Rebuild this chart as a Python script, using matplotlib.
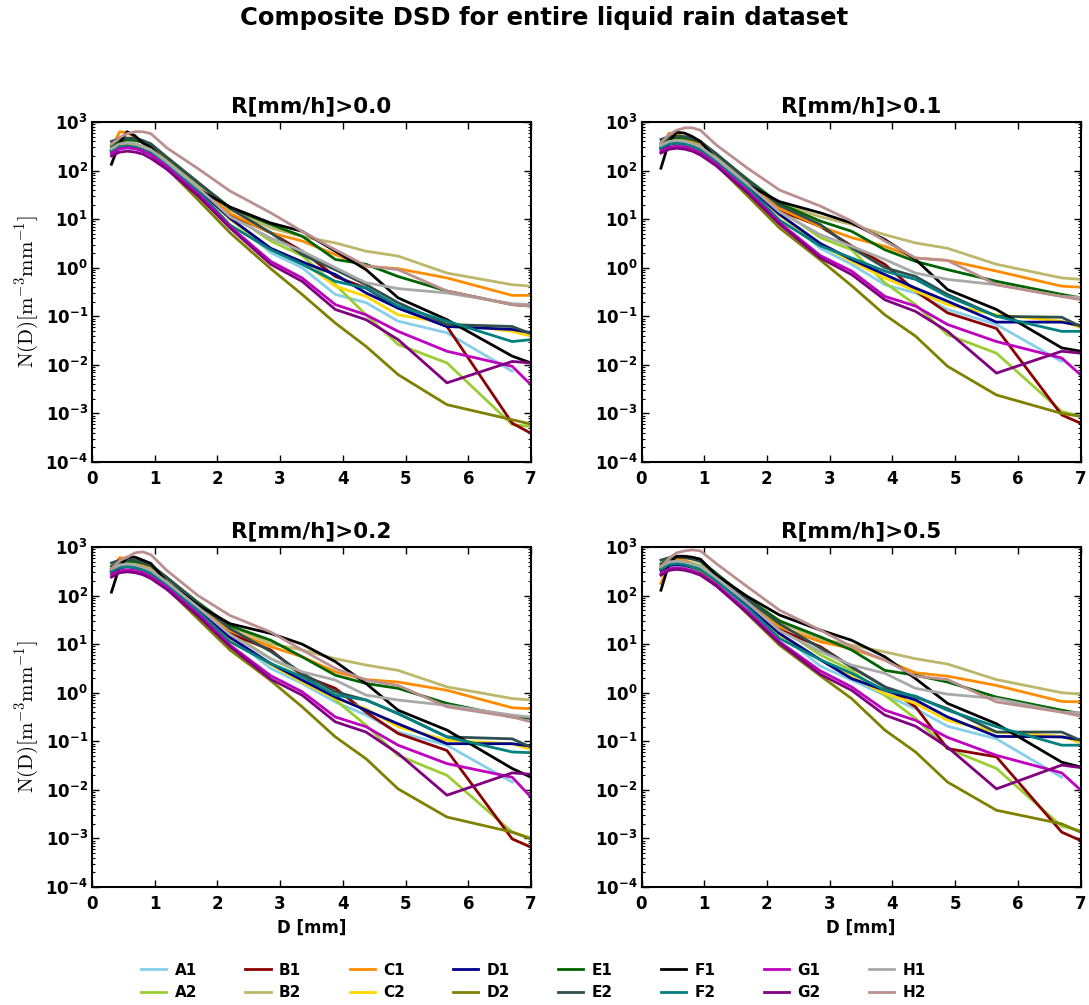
import numpy as np
import matplotlib
matplotlib.use("Agg")
import matplotlib.pyplot as plt
from matplotlib.ticker import FixedLocator, FuncFormatter, LogLocator, NullFormatter

nan = np.nan

# drop diameter [mm] of each size bin
diam = [0.31, 0.44, 0.56, 0.69, 0.81, 0.94, 1.19, 1.69, 2.2,
        2.85, 3.35, 3.88, 4.37, 4.88, 5.66, 6.70, 7.70]

sites = ["A1", "A2", "B1", "B2", "C1", "C2", "D1", "D2",
         "E1", "E2", "F1", "F2", "G1", "G2", "H1", "H2"]
colors = ["#87CEEB", "#9ACD32", "#8B0000", "#BDB76B", "#FF8C00", "#FFD700",
          "#00008B", "#808000", "#006400", "#2F4F4F", "#000000", "#008080",
          "#BF00BF", "#800080", "#A9A9A9", "#BC8F8F"]
thresholds = ["0.0", "0.1", "0.2", "0.5"]

# log10 N(D) [m^-3 mm^-1]
r00 = {
    "A1": [2.35, 2.45, 2.47, 2.45, 2.40, 2.33, 2.13, 1.62, 1.02, 0.31, 0.00, -0.55, -0.72, -1.10, -1.34, -2.13, nan],
    "A2": [2.45, 2.55, 2.57, 2.55, 2.50, 2.44, 2.22, 1.70, 1.12, 0.55, 0.25, -0.35, -0.97, -1.58, -1.96, -3.23, -3.36],
    "B1": [2.40, 2.50, 2.52, 2.50, 2.45, 2.38, 2.17, 1.66, 1.10, 0.72, 0.34, -0.18, -0.42, -0.83, -1.21, -3.20, -3.90],
    "B2": [2.40, 2.52, 2.55, 2.52, 2.48, 2.40, 2.20, 1.70, 1.20, 0.82, 0.64, 0.51, 0.34, 0.24, -0.11, -0.35, -0.45],
    "C1": [2.45, 2.80, 2.78, 2.68, 2.58, 2.47, 2.18, 1.64, 1.12, 0.72, 0.55, 0.27, 0.03, -0.02, -0.21, -0.57, -0.57],
    "C2": [2.38, 2.47, 2.50, 2.48, 2.43, 2.36, 2.15, 1.62, 1.00, 0.36, 0.13, -0.38, -0.59, -0.97, -1.14, -1.31, -1.64],
    "D1": [2.38, 2.47, 2.50, 2.47, 2.42, 2.35, 2.15, 1.62, 1.02, 0.40, 0.12, -0.14, -0.52, -0.83, -1.21, -1.27, -1.50],
    "D2": [2.40, 2.50, 2.52, 2.48, 2.42, 2.33, 2.05, 1.40, 0.72, -0.02, -0.55, -1.14, -1.62, -2.20, -2.82, -3.13, -3.43],
    "E1": [2.50, 2.60, 2.63, 2.62, 2.58, 2.52, 2.27, 1.75, 1.24, 0.89, 0.65, 0.17, 0.07, -0.18, -0.48, -0.76, -0.86],
    "E2": [2.60, 2.66, 2.67, 2.66, 2.62, 2.55, 2.28, 1.76, 1.22, 0.72, 0.27, -0.04, -0.35, -0.72, -1.17, -1.21, -1.71],
    "F1": [2.13, 2.57, 2.80, 2.71, 2.57, 2.47, 2.13, 1.62, 1.25, 0.92, 0.75, 0.34, -0.04, -0.62, -1.07, -1.82, -2.29],
    "F2": [2.40, 2.48, 2.50, 2.48, 2.43, 2.36, 2.13, 1.58, 0.88, 0.37, 0.07, -0.28, -0.42, -0.79, -1.10, -1.52, -1.39],
    "G1": [2.35, 2.45, 2.47, 2.45, 2.40, 2.32, 2.08, 1.52, 0.85, 0.13, -0.21, -0.76, -0.97, -1.31, -1.72, -2.03, -3.30],
    "G2": [2.30, 2.38, 2.40, 2.38, 2.34, 2.25, 2.03, 1.48, 0.82, 0.07, -0.28, -0.86, -1.07, -1.48, -2.37, -1.93, -2.03],
    "H1": [2.45, 2.55, 2.57, 2.55, 2.50, 2.43, 2.18, 1.65, 1.05, 0.61, 0.34, 0.00, -0.31, -0.43, -0.52, -0.74, -0.80],
    "H2": [2.54, 2.68, 2.76, 2.80, 2.80, 2.76, 2.47, 2.04, 1.58, 1.13, 0.75, 0.37, 0.04, -0.04, -0.48, -0.76, -0.86],
}
r01 = {
    "A1": [2.42, 2.52, 2.54, 2.52, 2.47, 2.40, 2.20, 1.68, 1.10, 0.40, 0.07, -0.35, -0.52, -0.86, -1.17, -1.93, nan],
    "A2": [2.52, 2.62, 2.64, 2.62, 2.57, 2.51, 2.29, 1.77, 1.20, 0.62, 0.37, -0.31, -0.76, -1.38, -1.76, -2.96, -3.29],
    "B1": [2.47, 2.57, 2.59, 2.57, 2.52, 2.45, 2.24, 1.73, 1.18, 0.85, 0.45, 0.07, -0.48, -0.93, -1.25, -3.03, -3.60],
    "B2": [2.47, 2.59, 2.62, 2.59, 2.55, 2.47, 2.27, 1.78, 1.32, 1.05, 0.89, 0.68, 0.51, 0.40, 0.07, -0.21, -0.31],
    "C1": [2.50, 2.77, 2.76, 2.67, 2.60, 2.50, 2.24, 1.70, 1.22, 0.85, 0.62, 0.44, 0.20, 0.15, -0.07, -0.38, -0.45],
    "C2": [2.45, 2.54, 2.57, 2.55, 2.50, 2.43, 2.22, 1.69, 1.08, 0.48, 0.13, -0.21, -0.48, -0.76, -0.97, -1.10, -1.53],
    "D1": [2.45, 2.54, 2.57, 2.54, 2.49, 2.42, 2.22, 1.69, 1.10, 0.50, 0.17, -0.14, -0.42, -0.69, -1.12, -1.12, -1.35],
    "D2": [2.47, 2.57, 2.59, 2.55, 2.49, 2.40, 2.12, 1.48, 0.82, 0.16, -0.37, -0.97, -1.41, -2.03, -2.62, -3.00, -3.20],
    "E1": [2.57, 2.66, 2.68, 2.67, 2.64, 2.58, 2.34, 1.82, 1.32, 0.96, 0.75, 0.37, 0.13, -0.04, -0.28, -0.55, -0.78],
    "E2": [2.64, 2.70, 2.71, 2.70, 2.66, 2.60, 2.35, 1.80, 1.28, 0.89, 0.41, 0.00, -0.18, -0.55, -1.00, -1.02, -1.65],
    "F1": [2.05, 2.60, 2.79, 2.77, 2.70, 2.60, 2.22, 1.71, 1.36, 1.13, 0.92, 0.58, 0.17, -0.45, -0.86, -1.65, -1.88],
    "F2": [2.47, 2.55, 2.57, 2.55, 2.50, 2.43, 2.20, 1.65, 0.98, 0.45, 0.20, -0.07, -0.24, -0.59, -1.00, -1.31, -1.31],
    "G1": [2.40, 2.48, 2.50, 2.48, 2.44, 2.36, 2.14, 1.58, 0.93, 0.25, -0.07, -0.59, -0.79, -1.17, -1.52, -1.86, -3.00],
    "G2": [2.36, 2.44, 2.46, 2.44, 2.40, 2.32, 2.10, 1.54, 0.90, 0.20, -0.14, -0.66, -0.90, -1.31, -2.17, -1.72, -1.85],
    "H1": [2.52, 2.60, 2.62, 2.60, 2.56, 2.49, 2.25, 1.72, 1.15, 0.68, 0.44, 0.17, -0.11, -0.24, -0.35, -0.59, -0.66],
    "H2": [2.57, 2.74, 2.83, 2.88, 2.88, 2.83, 2.53, 2.05, 1.60, 1.27, 0.96, 0.55, 0.20, 0.15, -0.35, -0.59, -0.82],
}
r02 = {
    "A1": [2.45, 2.55, 2.57, 2.55, 2.50, 2.43, 2.23, 1.72, 1.15, 0.50, 0.19, -0.19, -0.46, -0.81, -1.08, -1.84, nan],
    "A2": [2.55, 2.65, 2.67, 2.65, 2.60, 2.54, 2.32, 1.80, 1.24, 0.70, 0.40, -0.15, -0.67, -1.29, -1.70, -2.87, -3.27],
    "B1": [2.50, 2.60, 2.62, 2.60, 2.55, 2.48, 2.27, 1.76, 1.22, 0.88, 0.36, 0.09, -0.40, -0.84, -1.19, -3.01, -3.58],
    "B2": [2.50, 2.62, 2.65, 2.62, 2.58, 2.50, 2.30, 1.82, 1.36, 1.01, 0.88, 0.70, 0.57, 0.46, 0.12, -0.12, -0.22],
    "C1": [2.52, 2.78, 2.77, 2.70, 2.63, 2.53, 2.27, 1.74, 1.28, 0.95, 0.74, 0.43, 0.27, 0.22, 0.05, -0.31, -0.38],
    "C2": [2.48, 2.57, 2.60, 2.58, 2.53, 2.46, 2.25, 1.72, 1.12, 0.58, 0.22, -0.12, -0.33, -0.70, -0.98, -1.05, -1.45],
    "D1": [2.48, 2.57, 2.60, 2.57, 2.52, 2.45, 2.25, 1.72, 1.14, 0.60, 0.26, -0.09, -0.36, -0.64, -1.05, -1.05, -1.22],
    "D2": [2.50, 2.60, 2.62, 2.58, 2.52, 2.43, 2.15, 1.52, 0.88, 0.25, -0.29, -0.91, -1.36, -1.98, -2.56, -2.87, -3.34],
    "E1": [2.60, 2.69, 2.71, 2.70, 2.67, 2.61, 2.37, 1.86, 1.38, 1.08, 0.74, 0.36, 0.19, 0.09, -0.22, -0.50, -0.60],
    "E2": [2.67, 2.73, 2.74, 2.73, 2.69, 2.63, 2.38, 1.84, 1.32, 0.85, 0.40, 0.02, -0.15, -0.43, -0.91, -0.95, -1.52],
    "F1": [2.07, 2.60, 2.79, 2.79, 2.73, 2.66, 2.28, 1.80, 1.42, 1.22, 1.00, 0.64, 0.19, -0.36, -0.77, -1.56, -2.16],
    "F2": [2.50, 2.58, 2.60, 2.58, 2.53, 2.46, 2.23, 1.68, 1.05, 0.60, 0.33, -0.05, -0.15, -0.43, -0.91, -1.22, -1.27],
    "G1": [2.43, 2.51, 2.53, 2.51, 2.47, 2.39, 2.17, 1.62, 0.98, 0.35, 0.02, -0.50, -0.70, -1.08, -1.46, -1.74, -3.11],
    "G2": [2.38, 2.47, 2.49, 2.47, 2.43, 2.35, 2.13, 1.58, 0.95, 0.28, -0.05, -0.60, -0.81, -1.25, -2.11, -1.65, -1.75],
    "H1": [2.55, 2.63, 2.65, 2.63, 2.59, 2.52, 2.28, 1.76, 1.20, 0.70, 0.43, 0.26, -0.05, -0.15, -0.26, -0.46, -0.60],
    "H2": [2.55, 2.72, 2.79, 2.88, 2.90, 2.84, 2.52, 2.00, 1.59, 1.25, 0.88, 0.50, 0.26, 0.15, -0.29, -0.50, -0.83],
}
r05 = {
    "A1": [2.50, 2.60, 2.62, 2.60, 2.56, 2.50, 2.30, 1.80, 1.22, 0.55, 0.26, -0.05, -0.33, -0.69, -0.95, -1.74, nan],
    "A2": [2.60, 2.71, 2.73, 2.72, 2.67, 2.62, 2.42, 1.92, 1.34, 0.78, 0.46, -0.05, -0.53, -1.15, -1.56, -2.75, -3.05],
    "B1": [2.55, 2.66, 2.68, 2.67, 2.62, 2.56, 2.35, 1.86, 1.30, 0.95, 0.53, 0.12, -0.29, -1.15, -1.32, -2.87, -3.44],
    "B2": [2.55, 2.67, 2.70, 2.68, 2.64, 2.58, 2.38, 1.90, 1.45, 1.10, 0.98, 0.84, 0.70, 0.59, 0.27, 0.00, -0.10],
    "C1": [2.25, 2.65, 2.74, 2.72, 2.66, 2.58, 2.34, 1.82, 1.36, 1.05, 0.91, 0.67, 0.41, 0.34, 0.15, -0.18, -0.21],
    "C2": [2.52, 2.62, 2.65, 2.63, 2.59, 2.53, 2.32, 1.80, 1.20, 0.68, 0.33, -0.02, -0.22, -0.57, -0.81, -0.90, -1.33],
    "D1": [2.52, 2.62, 2.64, 2.62, 2.58, 2.52, 2.32, 1.80, 1.22, 0.68, 0.29, 0.05, -0.15, -0.50, -0.90, -0.91, -1.11],
    "D2": [2.55, 2.65, 2.67, 2.64, 2.59, 2.52, 2.24, 1.62, 0.98, 0.35, -0.12, -0.77, -1.22, -1.84, -2.42, -2.70, -3.27],
    "E1": [2.65, 2.76, 2.80, 2.79, 2.76, 2.72, 2.46, 1.94, 1.48, 1.15, 0.88, 0.46, 0.36, 0.22, -0.09, -0.36, -0.59],
    "E2": [2.73, 2.78, 2.79, 2.78, 2.75, 2.70, 2.45, 1.92, 1.42, 0.92, 0.53, 0.12, -0.09, -0.33, -0.81, -0.81, -1.38],
    "F1": [2.11, 2.66, 2.81, 2.81, 2.79, 2.75, 2.42, 1.98, 1.60, 1.29, 1.08, 0.74, 0.29, -0.22, -0.64, -1.43, -1.76],
    "F2": [2.55, 2.64, 2.66, 2.64, 2.60, 2.54, 2.31, 1.76, 1.12, 0.68, 0.40, 0.05, -0.07, -0.36, -0.70, -1.08, -1.08],
    "G1": [2.45, 2.55, 2.57, 2.55, 2.51, 2.45, 2.23, 1.68, 1.05, 0.45, 0.12, -0.36, -0.57, -0.92, -1.29, -1.65, -2.82],
    "G2": [2.42, 2.52, 2.54, 2.52, 2.48, 2.42, 2.20, 1.64, 1.02, 0.38, 0.05, -0.46, -0.69, -1.12, -1.98, -1.49, -1.66],
    "H1": [2.60, 2.69, 2.71, 2.69, 2.65, 2.60, 2.37, 1.85, 1.28, 0.85, 0.57, 0.40, 0.09, -0.03, -0.12, -0.40, -0.45],
    "H2": [2.59, 2.77, 2.88, 2.92, 2.94, 2.92, 2.66, 2.18, 1.70, 1.29, 0.95, 0.67, 0.34, 0.27, -0.19, -0.40, -0.67],
}
panels = [r00, r01, r02, r05]

plt.rcParams.update({
    "font.family": "DejaVu Sans",
    "font.weight": "bold",
    "axes.titleweight": "bold",
    "axes.labelweight": "bold",
    "mathtext.fontset": "dejavusans",
})


def decade_label(v, pos):
    return r"$\mathbf{10^{%d}}$" % int(round(np.log10(v)))


fig = plt.figure(figsize=(10.89, 10.05), dpi=100)
W, H = 1089.0, 1005.0
boxes = [(92, 122), (641.5, 122), (92, 547), (641.5, 547)]

for k, (thr, data) in enumerate(zip(thresholds, panels)):
    x0, y0 = boxes[k]
    ax = fig.add_axes([x0 / W, 1 - (y0 + 340) / H, 439 / W, 340 / H])
    for s, c in zip(sites, colors):
        ax.plot(diam, 10.0 ** np.array(data[s]), color=c, lw=2, label=s)
    ax.set_yscale("log")
    ax.set_xlim(0, 7)
    ax.set_ylim(1e-4, 1e3)
    ax.xaxis.set_major_locator(FixedLocator(range(8)))
    ax.yaxis.set_major_locator(LogLocator(base=10, numticks=12))
    ax.yaxis.set_minor_locator(LogLocator(base=10, subs=np.arange(2, 10), numticks=12))
    ax.yaxis.set_major_formatter(FuncFormatter(decade_label))
    ax.yaxis.set_minor_formatter(NullFormatter())
    ax.tick_params(which="both", direction="in", top=True, right=True, labelsize=12)
    ax.tick_params(which="major", length=5, width=1)
    ax.tick_params(which="minor", length=2.5, width=0.8)
    ax.tick_params(axis="x", pad=6)
    ax.tick_params(axis="y", pad=3)
    for sp in ax.spines.values():
        sp.set_linewidth(1.5)
    ax.set_title("R[mm/h]>" + thr, fontsize=15.5, pad=7)
    if k % 2 == 0:
        ax.set_ylabel(r"$\mathrm{N(D)[m^{-3}mm^{-1}]}$", fontsize=15,
                      math_fontfamily="cm", labelpad=3)
    if k >= 2:
        ax.set_xlabel("D [mm]", fontsize=12, labelpad=4)
    if k == 0:
        handles, labels = ax.get_legend_handles_labels()

fig.suptitle("Composite DSD for entire liquid rain dataset", fontsize=17.5,
             fontweight="bold", y=0.982, va="center")
fig.legend(handles, labels, loc="lower center", bbox_to_anchor=(0.49, -0.009),
           ncol=8, frameon=False, handlelength=1.65, handletextpad=0.55,
           columnspacing=3.15, labelspacing=0.5,
           prop={"weight": "bold", "size": 11})

fig.savefig("out.png", dpi=100)
